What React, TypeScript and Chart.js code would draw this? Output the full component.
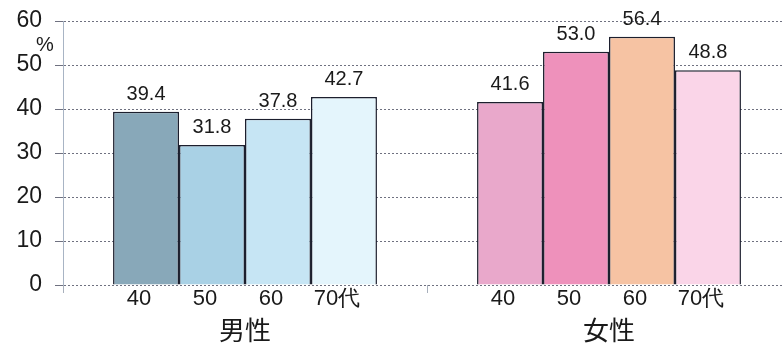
import React, { useEffect, useRef } from "react";
import { Chart, registerables } from "chart.js";

Chart.register(...registerables);

// Survey results by sex and age band (%)
const groups = ["男性", "女性"];
const ageBands = ["40", "50", "60", "70代"];
const maleValues = [39.4, 31.8, 37.8, 42.7];
const femaleValues = [41.6, 53.0, 56.4, 48.8];
const yTicks = [0, 10, 20, 30, 40, 50, 60];

const maleColors = ["#88a8b9", "#a9d1e5", "#c6e5f4", "#e4f5fc"];
const femaleColors = ["#e9a8cb", "#ee91bb", "#f6c3a3", "#fad5e8"];

const LATIN = "'Liberation Sans', Arial, sans-serif";
const CJK = "'Noto Sans CJK JP', sans-serif";

const barLabels = {
  id: "barLabels",
  afterDatasetsDraw(chart: any) {
    const ctx = chart.ctx;
    ctx.save();
    chart.data.datasets.forEach((ds: any, i: number) => {
      const meta = chart.getDatasetMeta(i);
      meta.data.forEach((bar: any, j: number) => {
        const v = ds.data[j] as number;
        // value above the bar
        ctx.fillStyle = "#1a1a1a";
        ctx.font = `20px ${LATIN}`;
        ctx.textAlign = "center";
        ctx.textBaseline = "alphabetic";
        ctx.fillText(v.toFixed(1), bar.x, bar.y - 12);
        // age band under the bar
        ctx.font = `22px ${LATIN}`;
        ctx.textBaseline = "middle";
        ctx.fillText(ageBands[i], bar.x - 7, chart.chartArea.bottom + 14);
      });
    });
    // unit mark beside the y axis
    const yScale = chart.scales.y;
    ctx.font = `20px ${LATIN}`;
    ctx.textAlign = "center";
    ctx.textBaseline = "middle";
    ctx.fillStyle = "#1a1a1a";
    ctx.fillText("%", 45, yScale.getPixelForValue(54.5));
    ctx.restore();
  },
};

export default function App() {
  const ref = useRef<HTMLCanvasElement>(null);

  useEffect(() => {
    if (!ref.current) return;
    const datasets = ageBands.map((band, i) => ({
      label: band,
      data: [maleValues[i], femaleValues[i]],
      backgroundColor: [maleColors[i], femaleColors[i]],
      borderColor: "#1c1f2e",
      borderWidth: 1.5,
      categoryPercentage: 0.725,
      barPercentage: 1,
    }));

    const chart = new Chart(ref.current, {
      type: "bar",
      data: { labels: groups, datasets },
      plugins: [barLabels],
      options: {
        animation: false,
        responsive: false,
        devicePixelRatio: 1,
        layout: { padding: { top: 21, right: 9, left: 0, bottom: 0 } },
        plugins: {
          legend: { display: false },
          tooltip: { enabled: false },
        },
        scales: {
          x: {
            afterFit: (s: any) => {
              s.height = 60;
            },
            border: { display: false },
            grid: {
              offset: true,
              drawOnChartArea: false,
              drawTicks: true,
              tickLength: 8,
              color: "#a8b0bc",
            },
            ticks: {
              padding: 22,
              color: "#1a1a1a",
              font: { family: CJK, size: 26 },
            },
          },
          y: {
            min: 0,
            max: 60,
            afterFit: (s: any) => {
              s.width = 63;
              s.paddingTop = 0;
              s.paddingBottom = 0;
            },
            afterBuildTicks: (s: any) => {
              s.ticks = yTicks.map((v) => ({ value: v }));
            },
            border: { display: true, color: "#a8b4c4", width: 1, dash: [2, 2] },
            grid: {
              color: "#6f7180",
              lineWidth: 1,
              tickLength: 8,
            },
            ticks: {
              padding: 13,
              color: "#1a1a1a",
              font: { family: LATIN, size: 23 },
            },
          },
        },
      } as any,
    });
    // dashed horizontal gridlines
    (chart.options.scales as any).y.grid.borderDash = [3, 2];
    chart.update();

    return () => chart.destroy();
  }, []);

  return (
    <div style={{ position: "fixed", left: 0, top: 0, width: 800, height: 345, background: "#fff" }}>
      <canvas ref={ref} width={800} height={345} />
    </div>
  );
}
